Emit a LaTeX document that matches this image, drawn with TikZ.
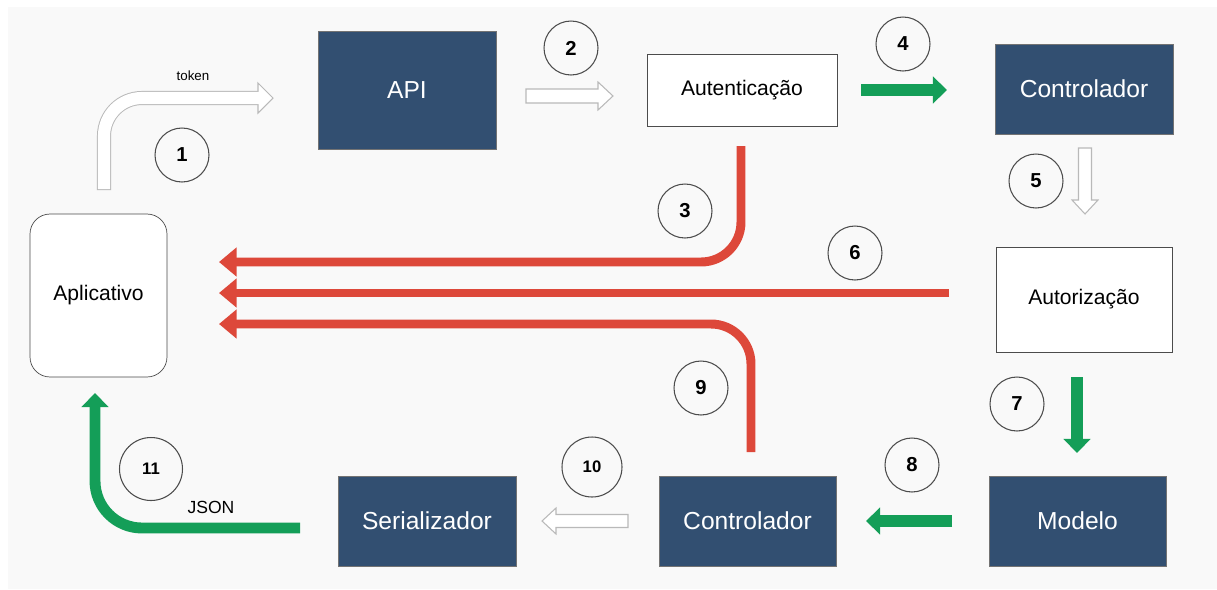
\documentclass[tikz,border=0pt]{standalone}
\usepackage{fontspec}
\setmainfont{Liberation Sans}
\usetikzlibrary{arrows.meta}

\definecolor{boxblue}{RGB}{50,79,113}
\definecolor{flowred}{RGB}{221,72,58}
\definecolor{flowgreen}{RGB}{20,158,88}
\definecolor{pagegray}{RGB}{249,249,249}
\definecolor{hollowgray}{RGB}{185,185,185}

\tikzset{
  darkbox/.style={draw=black!55, fill=boxblue, text=white, font=\fontsize{14}{16}\selectfont},
  lightbox/.style={draw=black!70, fill=white, font=\fontsize{12}{14}\selectfont},
  num/.style={circle, draw=black!70, line width=0.6pt, minimum size=1.08cm, inner sep=0pt, font=\bfseries\fontsize{11.5}{13}\selectfont},
  redarrow/.style={draw=flowred, line width=5.1pt, rounded corners=0.8cm, -{Triangle[length=10pt,width=16pt]}},
  greenarrow/.style={draw=flowgreen, line width=7pt, -{Triangle[length=8pt,width=15pt]}},
  hollow/.style={draw=hollowgray, fill=white, line width=0.6pt},
}

\begin{document}
\begin{tikzpicture}[x=0.02cm, y=-0.02cm]
  \useasboundingbox (0,0) rectangle (1217,589);
  \fill[pagegray] (8,7) rectangle (1217,589);

  % components
  \node[lightbox, rounded corners=0.4cm, minimum width=2.74cm, minimum height=3.26cm] (app) at (98.5,295.5) {Aplicativo};
  \node[darkbox, minimum width=3.56cm, minimum height=2.36cm] (api) at (407,90) {API};
  \node[lightbox, minimum width=3.8cm, minimum height=1.44cm] (auth) at (742,90) {Autenticação};
  \node[darkbox, minimum width=3.56cm, minimum height=1.8cm] (ctrltop) at (1084,89) {Controlador};
  \node[lightbox, minimum width=3.52cm, minimum height=2.1cm] (authz) at (1084,299.5) {Autorização};
  \node[darkbox, minimum width=3.54cm, minimum height=1.8cm] (model) at (1077.5,521) {Modelo};
  \node[darkbox, minimum width=3.54cm, minimum height=1.8cm] (ctrlbot) at (747.5,521) {Controlador};
  \node[darkbox, minimum width=3.56cm, minimum height=1.8cm] (serial) at (427,521) {Serializador};

  % step numbers
  \node[num] (c1) at (182,155) {1};
  \node[num] (c2) at (571,48) {2};
  \node[num] (c3) at (685,211) {3};
  \node[num] (c4) at (903,44) {4};
  \node[num] (c5) at (1036,181) {5};
  \node[num] (c6) at (855,253) {6};
  \node[num] (c7) at (1017,404) {7};
  \node[num] (c8) at (912,465) {8};
  \node[num] (c9) at (701,388) {9};
  \node[num, minimum size=1.2cm, font=\bfseries\fontsize{9.5}{11}\selectfont] (c10) at (592,467) {10};
  \node[num, minimum size=1.26cm, font=\bfseries\fontsize{9.5}{11}\selectfont] (c11) at (151,469) {11};

  % request with token
  \coordinate (tokstart) at (104,183);
  \coordinate (tokend) at (258,98);
  \draw[hollowgray, line width=8pt, line cap=rect, rounded corners=0.76cm] (tokstart) |- (tokend);
  \filldraw[hollow] (258,83) -- (273,98) -- (258,113) -- cycle;
  \draw[white, line width=6.9pt, line cap=rect, rounded corners=0.76cm] (tokstart) |- (tokend);
  \node[font=\fontsize{7.6}{9}\selectfont] (token) at (193,76) {token};

  % hollow steps
  \filldraw[hollow] (526,89) -- (598,89) -- (598,82) -- (613,96) -- (598,110) -- (598,103) -- (526,103) -- cycle;
  \filldraw[hollow] (1078.5,148) -- (1078.5,200) -- (1072,200) -- (1085,214) -- (1098,200) -- (1091.5,200) -- (1091.5,148) -- cycle;
  \filldraw[hollow] (628,514.5) -- (556,514.5) -- (556,508) -- (542,521) -- (556,534) -- (556,527.5) -- (628,527.5) -- cycle;

  % happy path
  \coordinate (g4s) at (861,90);   \coordinate (g4e) at (947,90);
  \coordinate (g7s) at (1077,377); \coordinate (g7e) at (1077,453);
  \coordinate (g8s) at (952,521);  \coordinate (g8e) at (866,521);
  \coordinate (g11s) at (300,528); \coordinate (g11e) at (95,393);
  \draw[greenarrow] (g4s) -- (g4e);
  \draw[greenarrow, line width=6.3pt] (g7s) -- (g7e);
  \draw[greenarrow, line width=6.6pt] (g8s) -- (g8e);
  \draw[greenarrow, line width=6.2pt, rounded corners=0.94cm] (g11s) -| (g11e);
  \node[font=\fontsize{10}{12}\selectfont] (json) at (211,507) {JSON};

  % error returns
  \coordinate (r3s) at (741,146); \coordinate (r3e) at (219,262);
  \coordinate (r6s) at (949,293); \coordinate (r6e) at (219,293);
  \coordinate (r9s) at (751,452); \coordinate (r9e) at (219,324);
  \draw[redarrow] (r3s) |- (r3e);
  \draw[redarrow] (r6s) -- (r6e);
  \draw[redarrow] (r9s) |- (r9e);
\end{tikzpicture}
\end{document}
